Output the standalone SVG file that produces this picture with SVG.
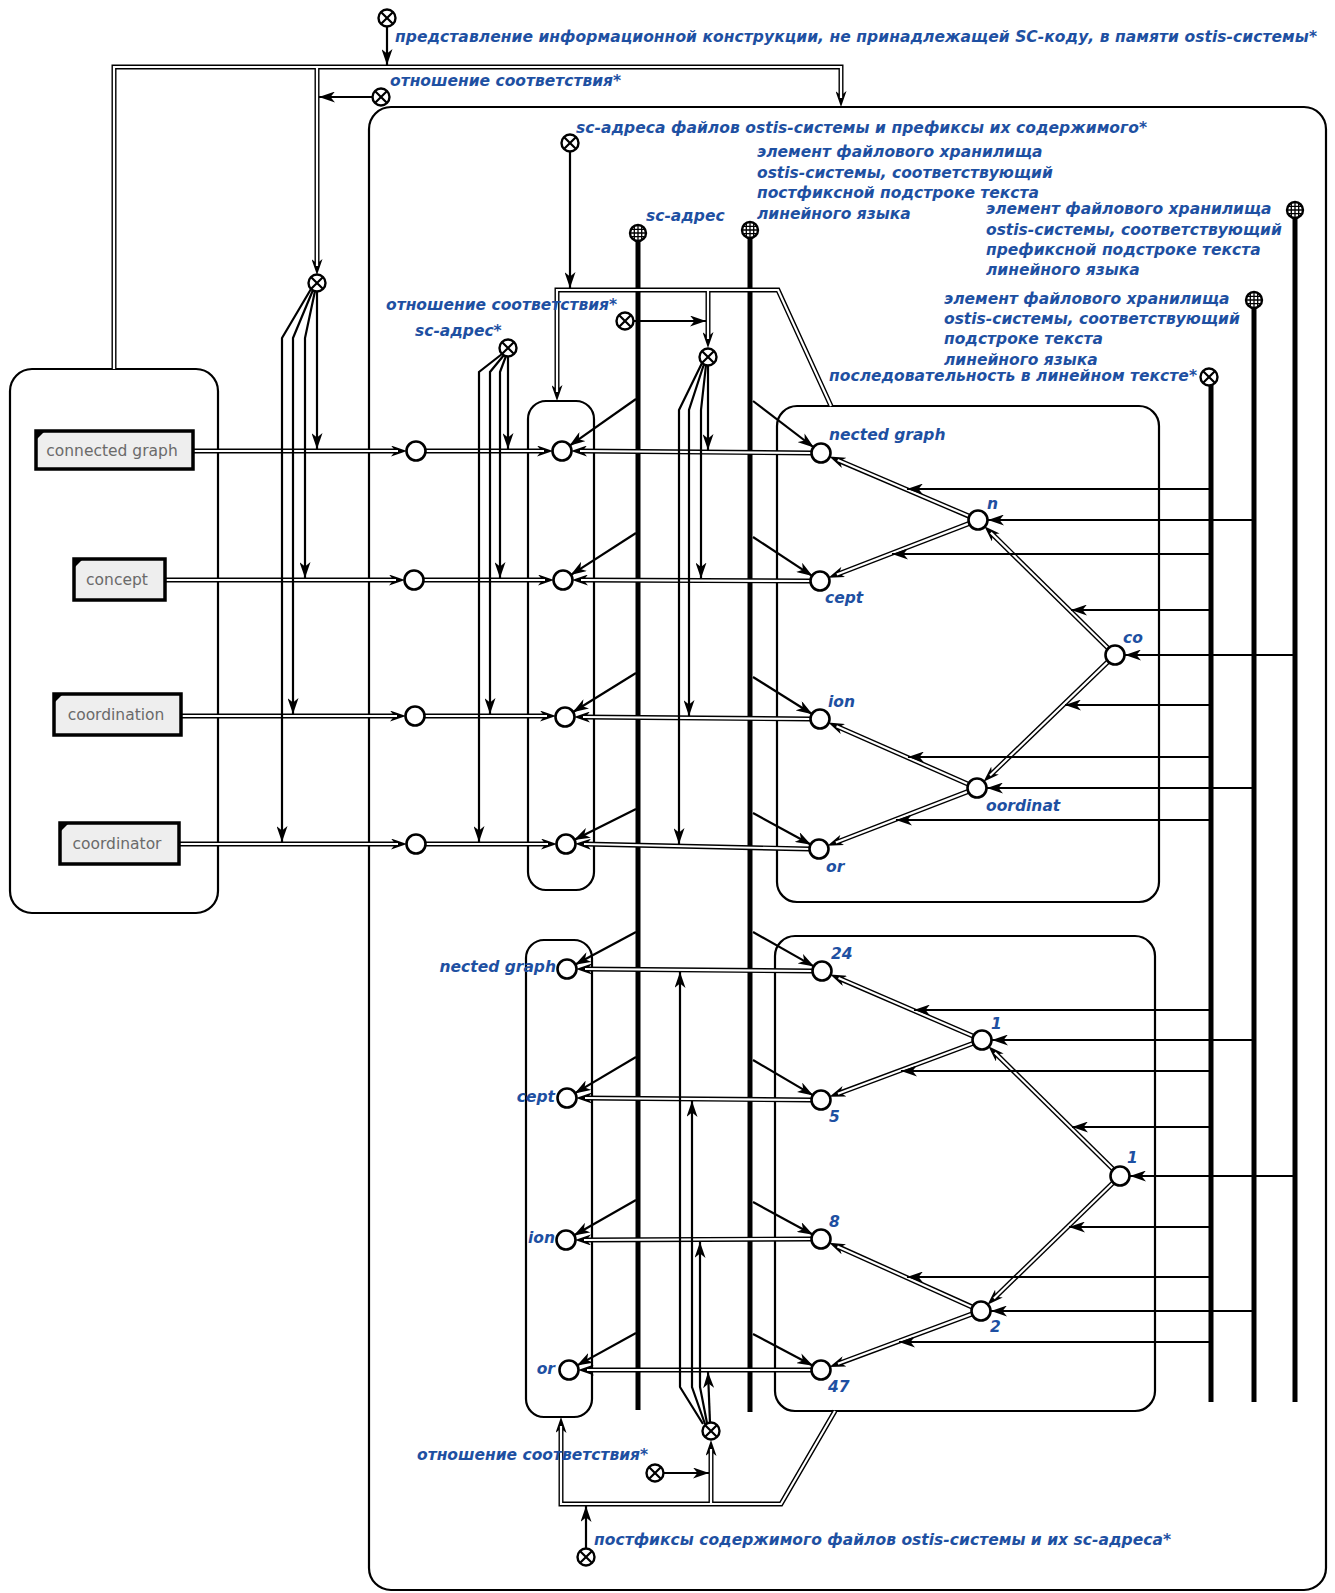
<svg xmlns="http://www.w3.org/2000/svg" width="1335" height="1593" viewBox="0 0 1335 1593">
<style>
.bx{fill:none;stroke:#000;stroke-width:2.2}
.c{fill:#fff;stroke:#000;stroke-width:2.6}
.x{fill:#fff;stroke:#000;stroke-width:2.4}
.xl{stroke:#000;stroke-width:2.2}
.s{fill:none;stroke:#000;stroke-width:2.2}
.t{fill:none;stroke:#000;stroke-width:5}
.dk{fill:none;stroke:#000;stroke-width:5;stroke-linejoin:miter}
.dw{fill:none;stroke:#fff;stroke-width:2.2;stroke-linejoin:miter}
.lb{font-family:"DejaVu Sans","Liberation Sans",sans-serif;font-weight:bold;font-style:italic;font-size:15.5px;fill:#1e50a2}
.nt{font-family:"DejaVu Sans","Liberation Sans",sans-serif;font-size:15.5px;fill:#6a6a6a}
.nr{fill:#eee;stroke:#000;stroke-width:3.5}
</style>
<defs>
<marker id="a" viewBox="0 0 16 11" refX="16" refY="5.5" markerWidth="16" markerHeight="11" markerUnits="userSpaceOnUse" orient="auto"><path d="M0,0 L16,5.5 L0,11 L4.5,5.5 z" fill="#000"/></marker>
<marker id="ad" viewBox="0 0 16 11" refX="7" refY="5.5" markerWidth="16" markerHeight="11" markerUnits="userSpaceOnUse" orient="auto"><path d="M0,0 L16,5.5 L0,11 L4.5,5.5 z" fill="#000"/></marker>
<g id="xs"><circle class="x" r="8.5"/><path class="xl" d="M-5.8,-5.8 L5.8,5.8 M-5.8,5.8 L5.8,-5.8"/></g>
<g id="gs"><circle class="x" r="8"/><path d="M0,-7 V7 M-3.7,-6 V6 M3.7,-6 V6 M-7,0 H7 M-6,-3.7 H6 M-6,3.7 H6" style="stroke:#000;stroke-width:1.3"/></g>
</defs>
<rect width="1335" height="1593" fill="#fff"/>

<!-- containers -->
<g id="box_main"><rect class="bx" x="369" y="107" width="957" height="1483" rx="22"/></g>
<g id="box_left"><rect class="bx" x="10" y="369" width="208" height="544" rx="22"/></g>
<g id="box_col2_up"><rect class="bx" x="528" y="401" width="66" height="489" rx="18"/></g>
<g id="box_col2_low"><rect class="bx" x="526" y="940" width="66" height="477" rx="18"/></g>
<g id="box_right_up"><rect class="bx" x="777" y="406" width="382" height="496" rx="20"/></g>
<g id="box_right_low"><rect class="bx" x="775" y="936" width="380" height="475" rx="20"/></g>

<g id="connectors">
<!-- thick attribute lines -->
<path class="t" d="M638,241 V1410 M750,238 V1412 M1211,385 V1402 M1254,308 V1402 M1295,218 V1402"/>
<!-- double connectors: black -->
<g marker-end="url(#ad)">
<path class="dk" d="M114,369 V67 H841 V98"/>
<path class="dk" d="M317,67 V266"/>
<path class="dk" d="M831,406 L778,290 H557 V392"/>
<path class="dk" d="M708,290 V339"/>
<path class="dk" d="M835,1411 L781,1504 H561 V1426"/>
<path class="dk" d="M711,1504 V1449"/>
<path class="dk" d="M193,451 H398"/>
<path class="dk" d="M165,580 H396"/>
<path class="dk" d="M181,716 H397"/>
<path class="dk" d="M179,844 H398"/>
<path class="dk" d="M425,451 H544"/>
<path class="dk" d="M423,580 H545"/>
<path class="dk" d="M424,716 H547"/>
<path class="dk" d="M425,844 H548"/>
<path class="dk" d="M812,453 L580,451"/>
<path class="dk" d="M811,581 L581,580"/>
<path class="dk" d="M811,719 L583,717"/>
<path class="dk" d="M810,849 L584,844"/>
<path class="dk" d="M813,971 L585,969"/>
<path class="dk" d="M812,1100 L585,1098"/>
<path class="dk" d="M812,1239 L584,1240"/>
<path class="dk" d="M812,1370 L587,1370"/>
<path class="dk" d="M968.8,516.1 L837.6,460.1"/>
<path class="dk" d="M968.7,523.6 L836.8,574.5"/>
<path class="dk" d="M1107.9,648 L990.8,532.6"/>
<path class="dk" d="M1107.8,661.9 L990,775.5"/>
<path class="dk" d="M967.8,784 L836.5,726.2"/>
<path class="dk" d="M967.7,791.6 L835.8,842.5"/>
<path class="dk" d="M972.8,1036 L838.5,978.1"/>
<path class="dk" d="M972.6,1043.5 L837.9,1093.7"/>
<path class="dk" d="M1112.9,1169 L994.8,1052.6"/>
<path class="dk" d="M1112.8,1183 L993.9,1298.5"/>
<path class="dk" d="M971.9,1306.9 L837.4,1246.4"/>
<path class="dk" d="M971.6,1314.1 L837.9,1363.8"/>
</g>
<!-- double connectors: white core -->
<g>
<path class="dw" d="M114,369 V67 H841 V98"/>
<path class="dw" d="M317,67 V266"/>
<path class="dw" d="M831,406 L778,290 H557 V392"/>
<path class="dw" d="M708,290 V339"/>
<path class="dw" d="M835,1411 L781,1504 H561 V1426"/>
<path class="dw" d="M711,1504 V1449"/>
<path class="dw" d="M193,451 H398"/>
<path class="dw" d="M165,580 H396"/>
<path class="dw" d="M181,716 H397"/>
<path class="dw" d="M179,844 H398"/>
<path class="dw" d="M425,451 H544"/>
<path class="dw" d="M423,580 H545"/>
<path class="dw" d="M424,716 H547"/>
<path class="dw" d="M425,844 H548"/>
<path class="dw" d="M812,453 L580,451"/>
<path class="dw" d="M811,581 L581,580"/>
<path class="dw" d="M811,719 L583,717"/>
<path class="dw" d="M810,849 L584,844"/>
<path class="dw" d="M813,971 L585,969"/>
<path class="dw" d="M812,1100 L585,1098"/>
<path class="dw" d="M812,1239 L584,1240"/>
<path class="dw" d="M812,1370 L587,1370"/>
<path class="dw" d="M968.8,516.1 L837.6,460.1"/>
<path class="dw" d="M968.7,523.6 L836.8,574.5"/>
<path class="dw" d="M1107.9,648 L990.8,532.6"/>
<path class="dw" d="M1107.8,661.9 L990,775.5"/>
<path class="dw" d="M967.8,784 L836.5,726.2"/>
<path class="dw" d="M967.7,791.6 L835.8,842.5"/>
<path class="dw" d="M972.8,1036 L838.5,978.1"/>
<path class="dw" d="M972.6,1043.5 L837.9,1093.7"/>
<path class="dw" d="M1112.9,1169 L994.8,1052.6"/>
<path class="dw" d="M1112.8,1183 L993.9,1298.5"/>
<path class="dw" d="M971.9,1306.9 L837.4,1246.4"/>
<path class="dw" d="M971.6,1314.1 L837.9,1363.8"/>
</g>
<!-- single arcs -->
<g class="s" marker-end="url(#a)">
<path class="s" d="M387,27 V65"/>
<path class="s" d="M372,97 H319"/>
<path class="s" d="M570,152 V288"/>
<path class="s" d="M634,321 H706"/>
<path class="s" d="M664,1473 H709"/>
<path class="s" d="M586,1548 V1506"/>
<path class="s" d="M317,292 V449"/>
<path class="s" d="M315,291 L305,338 V578"/>
<path class="s" d="M313,290 L293,338 V714"/>
<path class="s" d="M311,289 L282,338 V842"/>
<path class="s" d="M508,357 V449"/>
<path class="s" d="M506,356 L500,372 V578"/>
<path class="s" d="M504,355 L490,372 V714"/>
<path class="s" d="M502,354 L479,372 V842"/>
<path class="s" d="M708,366 V450"/>
<path class="s" d="M706,365 L701,410 V578.5"/>
<path class="s" d="M704,364 L689,410 V716"/>
<path class="s" d="M702,363 L679,410 V844"/>
<path class="s" d="M703,1424 L680,1387 V972"/>
<path class="s" d="M705,1424 L692,1387 V1101"/>
<path class="s" d="M707,1423 L700,1387 V1242"/>
<path class="s" d="M710,1423 L708,1372"/>
<path class="s" d="M636,399 L569.4,445.8"/>
<path class="s" d="M636,533 L570.6,575.1"/>
<path class="s" d="M636,673 L572.7,712.3"/>
<path class="s" d="M636,809 L574,840"/>
<path class="s" d="M636,932 L574.9,964.7"/>
<path class="s" d="M636,1057 L574.7,1093.4"/>
<path class="s" d="M636,1200 L573.8,1235.5"/>
<path class="s" d="M636,1333 L576.9,1365.6"/>
<path class="s" d="M753,401 L813.9,447.5"/>
<path class="s" d="M753,537 L812.5,576.1"/>
<path class="s" d="M753,677 L812.4,714.2"/>
<path class="s" d="M753,813 L811.1,844.7"/>
<path class="s" d="M753,932 L814.2,966.6"/>
<path class="s" d="M753,1060 L813.2,1095.4"/>
<path class="s" d="M753,1202 L813.1,1234.7"/>
<path class="s" d="M753,1334 L813,1365.8"/>
<path class="s" d="M1211,489 H907"/>
<path class="s" d="M1254,520 H988"/>
<path class="s" d="M1211,554 H892"/>
<path class="s" d="M1211,610 H1071"/>
<path class="s" d="M1295,655 H1125"/>
<path class="s" d="M1211,705 H1065"/>
<path class="s" d="M1211,757 H908"/>
<path class="s" d="M1254,788 H987"/>
<path class="s" d="M1211,820 H896"/>
<path class="s" d="M1211,1010 H914"/>
<path class="s" d="M1254,1040 H992"/>
<path class="s" d="M1211,1071 H901"/>
<path class="s" d="M1211,1127 H1072"/>
<path class="s" d="M1295,1176 H1130"/>
<path class="s" d="M1211,1227 H1069"/>
<path class="s" d="M1211,1277 H907"/>
<path class="s" d="M1254,1311 H991"/>
<path class="s" d="M1211,1342 H899"/>
</g>
</g>

<!-- relation nodes -->
<g id="rel_repr"><use href="#xs" x="387" y="18"/><text class="lb" x="395" y="42" textLength="922">представление информационной конструкции, не принадлежащей SC-коду, в памяти ostis-системы*</text></g>
<g id="rel_corr_top"><use href="#xs" x="381" y="97"/><text class="lb" x="390" y="86">отношение соответствия*</text></g>
<g id="rel_sc_top"><use href="#xs" x="317" y="283"/></g>
<g id="rel_scaddr_prefix"><use href="#xs" x="570" y="143"/><text class="lb" x="576" y="133" textLength="571">sc-адреса файлов ostis-системы и префиксы их содержимого*</text></g>
<g id="rel_corr_mid"><use href="#xs" x="625" y="321"/><text class="lb" x="386" y="310">отношение соответствия*</text></g>
<g id="rel_scaddr"><use href="#xs" x="508" y="348"/><text class="lb" x="415" y="336">sc-адрес*</text></g>
<g id="rel_mid_up"><use href="#xs" x="708" y="357"/></g>
<g id="rel_mid_low"><use href="#xs" x="711" y="1431"/></g>
<g id="rel_corr_low"><use href="#xs" x="655" y="1473"/><text class="lb" x="417" y="1460">отношение соответствия*</text></g>
<g id="rel_postfix"><use href="#xs" x="586" y="1557"/><text class="lb" x="594" y="1545" textLength="577">постфиксы содержимого файлов ostis-системы и их sc-адреса*</text></g>
<g id="rel_seq"><use href="#xs" x="1209" y="377"/><text class="lb" x="829" y="381" textLength="368">последовательность в линейном тексте*</text></g>

<!-- attribute nodes -->
<g id="attr_scaddr"><use href="#gs" x="638" y="233"/><text class="lb" x="646" y="221">sc-адрес</text></g>
<g id="attr_postfix"><use href="#gs" x="750" y="230"/>
<text class="lb" x="757" y="157">элемент файлового хранилища</text>
<text class="lb" x="757" y="178">ostis-системы, соответствующий</text>
<text class="lb" x="757" y="198">постфиксной подстроке текста</text>
<text class="lb" x="757" y="219">линейного языка</text></g>
<g id="attr_prefix"><use href="#gs" x="1295" y="210"/>
<text class="lb" x="986" y="214">элемент файлового хранилища</text>
<text class="lb" x="986" y="235">ostis-системы, соответствующий</text>
<text class="lb" x="986" y="255">префиксной подстроке текста</text>
<text class="lb" x="986" y="275">линейного языка</text></g>
<g id="attr_sub"><use href="#gs" x="1254" y="300"/>
<text class="lb" x="944" y="304">элемент файлового хранилища</text>
<text class="lb" x="944" y="324">ostis-системы, соответствующий</text>
<text class="lb" x="944" y="344">подстроке текста</text>
<text class="lb" x="944" y="365">линейного языка</text></g>

<!-- file nodes -->
<g id="f_connected_graph"><rect class="nr" x="36" y="431" width="157" height="38"/><path d="M36,431 h9 l-9,9 z"/><text class="nt" x="112" y="456" text-anchor="middle">connected graph</text></g>
<g id="f_concept"><rect class="nr" x="74" y="559" width="91" height="41"/><path d="M74,559 h9 l-9,9 z"/><text class="nt" x="117" y="585" text-anchor="middle">concept</text></g>
<g id="f_coordination"><rect class="nr" x="54" y="694" width="127" height="41"/><path d="M54,694 h9 l-9,9 z"/><text class="nt" x="116" y="720" text-anchor="middle">coordination</text></g>
<g id="f_coordinator"><rect class="nr" x="60" y="823" width="119" height="41"/><path d="M60,823 h9 l-9,9 z"/><text class="nt" x="117" y="849" text-anchor="middle">coordinator</text></g>

<!-- column 1 -->
<g id="c1_1"><circle class="c" cx="416" cy="451" r="9.5"/></g>
<g id="c1_2"><circle class="c" cx="414" cy="580" r="9.5"/></g>
<g id="c1_3"><circle class="c" cx="415" cy="716" r="9.5"/></g>
<g id="c1_4"><circle class="c" cx="416" cy="844" r="9.5"/></g>
<!-- column 2 -->
<g id="c2_1"><circle class="c" cx="562" cy="451" r="9.5"/></g>
<g id="c2_2"><circle class="c" cx="563" cy="580" r="9.5"/></g>
<g id="c2_3"><circle class="c" cx="565" cy="717" r="9.5"/></g>
<g id="c2_4"><circle class="c" cx="566" cy="844" r="9.5"/></g>
<g id="c2_5"><circle class="c" cx="567" cy="969" r="9.5"/><text class="lb" x="556" y="972" text-anchor="end">nected graph</text></g>
<g id="c2_6"><circle class="c" cx="567" cy="1098" r="9.5"/><text class="lb" x="555" y="1102" text-anchor="end">cept</text></g>
<g id="c2_7"><circle class="c" cx="566" cy="1240" r="9.5"/><text class="lb" x="555" y="1243" text-anchor="end">ion</text></g>
<g id="c2_8"><circle class="c" cx="569" cy="1370" r="9.5"/><text class="lb" x="555" y="1374" text-anchor="end">or</text></g>
<!-- column 3 upper -->
<g id="s_ng"><circle class="c" cx="821" cy="453" r="9.5"/><text class="lb" x="829" y="440">nected graph</text></g>
<g id="s_cept"><circle class="c" cx="820" cy="581" r="9.5"/><text class="lb" x="825" y="603">cept</text></g>
<g id="s_ion"><circle class="c" cx="820" cy="719" r="9.5"/><text class="lb" x="828" y="707">ion</text></g>
<g id="s_or"><circle class="c" cx="819" cy="849" r="9.5"/><text class="lb" x="826" y="872">or</text></g>
<g id="s_n"><circle class="c" cx="978" cy="520" r="9.5"/><text class="lb" x="987" y="509">n</text></g>
<g id="s_co"><circle class="c" cx="1115" cy="655" r="9.5"/><text class="lb" x="1123" y="643">co</text></g>
<g id="s_oordinat"><circle class="c" cx="977" cy="788" r="9.5"/><text class="lb" x="986" y="811">oordinat</text></g>
<!-- column 3 lower -->
<g id="p_24"><circle class="c" cx="822" cy="971" r="9.5"/><text class="lb" x="831" y="959">24</text></g>
<g id="p_5"><circle class="c" cx="821" cy="1100" r="9.5"/><text class="lb" x="829" y="1122">5</text></g>
<g id="p_8"><circle class="c" cx="821" cy="1239" r="9.5"/><text class="lb" x="829" y="1227">8</text></g>
<g id="p_47"><circle class="c" cx="821" cy="1370" r="9.5"/><text class="lb" x="828" y="1392">47</text></g>
<g id="p_1a"><circle class="c" cx="982" cy="1040" r="9.5"/><text class="lb" x="991" y="1029">1</text></g>
<g id="p_1b"><circle class="c" cx="1120" cy="1176" r="9.5"/><text class="lb" x="1127" y="1163">1</text></g>
<g id="p_2"><circle class="c" cx="981" cy="1311" r="9.5"/><text class="lb" x="990" y="1332">2</text></g>
</svg>
